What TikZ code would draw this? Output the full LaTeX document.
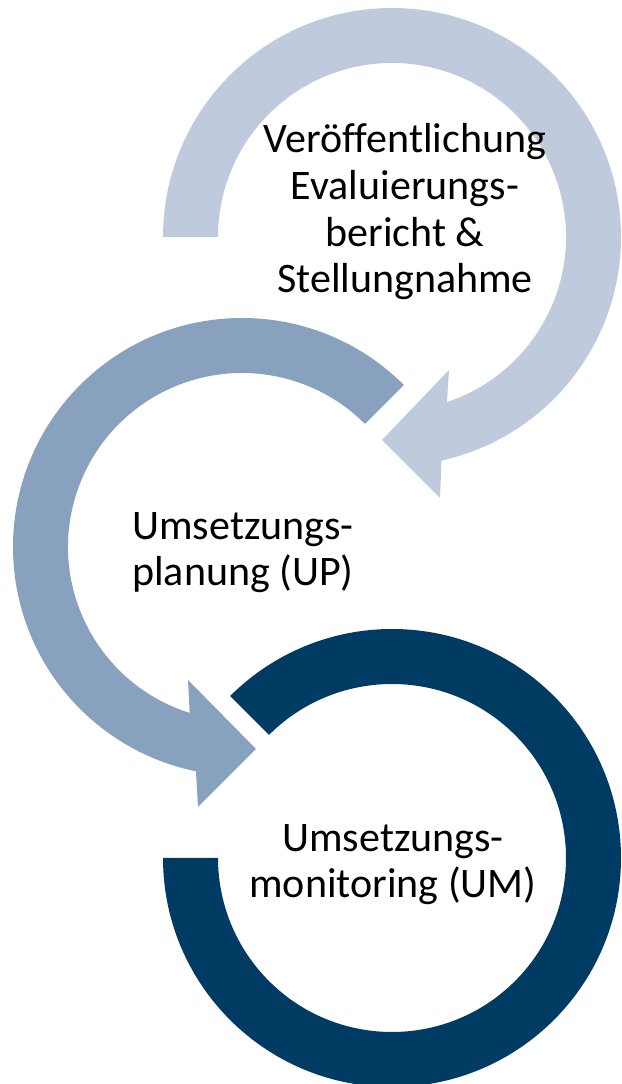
\documentclass[tikz,border=0pt]{standalone}
\usepackage{fontspec}
\setmainfont{Carlito}[Ligatures=CommonOff]
\usetikzlibrary{calc}
\definecolor{lightarrow}{RGB}{191,203,221}
\definecolor{midarrow}{RGB}{135,161,190}
\definecolor{darkarrow}{RGB}{0,59,99}
\begin{document}
\begin{tikzpicture}[x=1pt,y=1pt,
  label/.style={align=center,inner sep=0pt,font=\fontsize{42}{46.7}\selectfont,text=black}]
\useasboundingbox (0,0) rectangle (621,1084);
\coordinate (c1) at (392,847);
\coordinate (c2) at (242,537);
\coordinate (c3) at (392,226);
% arrow heads
\coordinate (h1a) at (440,586);
\coordinate (h1t) at (382,644);
\coordinate (h1b) at (449,714);
\coordinate (h2a) at (198,277);
\coordinate (h2t) at (256,335);
\coordinate (h2b) at (188,404);
% circle 1 (light)
\fill[lightarrow] ($(c1)+(180:229)$) arc[start angle=180,end angle=-77.5,radius=229]
  -- (h1a) -- (h1t) -- (h1b) -- ($(c1)+(-71.6:174)$)
  arc[start angle=-71.6,end angle=180,radius=174] -- cycle;
% circle 2 (medium)
\fill[midarrow] ($(c2)+(45:229)$) arc[start angle=45,end angle=258.4,radius=229]
  -- (h2a) -- (h2t) -- (h2b) -- ($(c2)+(252.5:174)$)
  arc[start angle=252.5,end angle=45,radius=174] -- cycle;
% circle 3 (dark)
\fill[darkarrow] ($(c3)+(180:229)$) arc[start angle=180,end angle=495,radius=229]
  -- ($(c3)+(135:174)$) arc[start angle=495,end angle=180,radius=174] -- cycle;
\node[label] (t1) at (405,872.2) {Veröffentlichung\\Evaluierungs-\\bericht \&\\Stellungnahme};
\node[label] (t2) at (243,531.5) {Umsetzungs-\\planung (UP)};
\node[label] (t3) at (393,219.5) {Umsetzungs-\\monitoring (UM)};
\end{tikzpicture}
\end{document}
